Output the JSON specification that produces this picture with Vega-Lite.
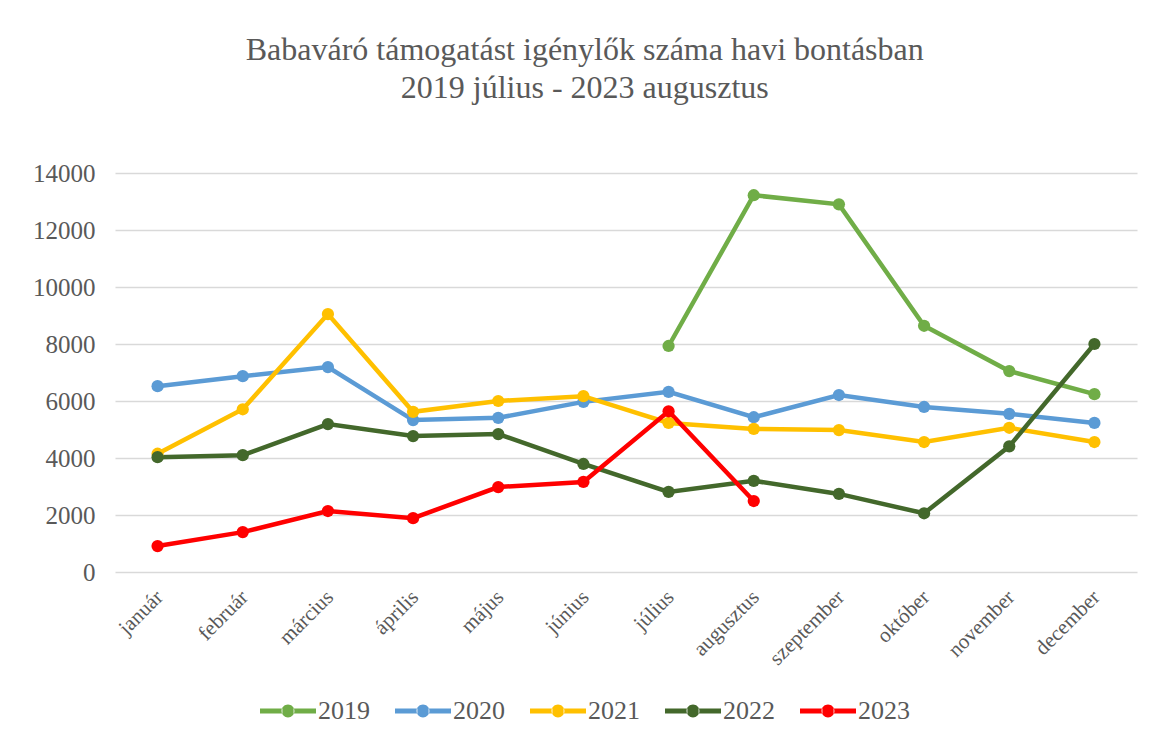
{
  "$schema": "https://vega.github.io/schema/vega-lite/v6.json",
  "width": 1022,
  "height": 399,
  "padding": {"left": 32, "top": 34, "right": 19, "bottom": 10},
  "background": "white",
  "title": {
    "text": ["Babaváró támogatást igénylők száma havi bontásban", "2019 július - 2023 augusztus"],
    "font": "Liberation Serif",
    "fontSize": 32,
    "fontWeight": "normal",
    "color": "#595959",
    "lineHeight": 38,
    "offset": 56,
    "anchor": "middle",
    "frame": "bounds"
  },
  "config": {"view": {"stroke": null}},
  "data": {
    "values": [
      {"honap": "július", "ev": "2019", "ertek": 7930},
      {"honap": "augusztus", "ev": "2019", "ertek": 13220},
      {"honap": "szeptember", "ev": "2019", "ertek": 12900},
      {"honap": "október", "ev": "2019", "ertek": 8640},
      {"honap": "november", "ev": "2019", "ertek": 7050},
      {"honap": "december", "ev": "2019", "ertek": 6240},

      {"honap": "január", "ev": "2020", "ertek": 6520},
      {"honap": "február", "ev": "2020", "ertek": 6870},
      {"honap": "március", "ev": "2020", "ertek": 7190},
      {"honap": "április", "ev": "2020", "ertek": 5330},
      {"honap": "május", "ev": "2020", "ertek": 5410},
      {"honap": "június", "ev": "2020", "ertek": 5970},
      {"honap": "július", "ev": "2020", "ertek": 6320},
      {"honap": "augusztus", "ev": "2020", "ertek": 5430},
      {"honap": "szeptember", "ev": "2020", "ertek": 6210},
      {"honap": "október", "ev": "2020", "ertek": 5790},
      {"honap": "november", "ev": "2020", "ertek": 5550},
      {"honap": "december", "ev": "2020", "ertek": 5230},

      {"honap": "január", "ev": "2021", "ertek": 4150},
      {"honap": "február", "ev": "2021", "ertek": 5710},
      {"honap": "március", "ev": "2021", "ertek": 9050},
      {"honap": "április", "ev": "2021", "ertek": 5620},
      {"honap": "május", "ev": "2021", "ertek": 6000},
      {"honap": "június", "ev": "2021", "ertek": 6170},
      {"honap": "július", "ev": "2021", "ertek": 5230},
      {"honap": "augusztus", "ev": "2021", "ertek": 5020},
      {"honap": "szeptember", "ev": "2021", "ertek": 4980},
      {"honap": "október", "ev": "2021", "ertek": 4560},
      {"honap": "november", "ev": "2021", "ertek": 5060},
      {"honap": "december", "ev": "2021", "ertek": 4560},

      {"honap": "január", "ev": "2022", "ertek": 4030},
      {"honap": "február", "ev": "2022", "ertek": 4100},
      {"honap": "március", "ev": "2022", "ertek": 5190},
      {"honap": "április", "ev": "2022", "ertek": 4770},
      {"honap": "május", "ev": "2022", "ertek": 4840},
      {"honap": "június", "ev": "2022", "ertek": 3790},
      {"honap": "július", "ev": "2022", "ertek": 2810},
      {"honap": "augusztus", "ev": "2022", "ertek": 3200},
      {"honap": "szeptember", "ev": "2022", "ertek": 2740},
      {"honap": "október", "ev": "2022", "ertek": 2060},
      {"honap": "november", "ev": "2022", "ertek": 4410},
      {"honap": "december", "ev": "2022", "ertek": 8000},

      {"honap": "január", "ev": "2023", "ertek": 910},
      {"honap": "február", "ev": "2023", "ertek": 1400},
      {"honap": "március", "ev": "2023", "ertek": 2140},
      {"honap": "április", "ev": "2023", "ertek": 1890},
      {"honap": "május", "ev": "2023", "ertek": 2980},
      {"honap": "június", "ev": "2023", "ertek": 3160},
      {"honap": "július", "ev": "2023", "ertek": 5640},
      {"honap": "augusztus", "ev": "2023", "ertek": 2490}
    ]
  },
  "encoding": {
    "x": {
      "field": "honap",
      "type": "ordinal",
      "sort": ["január", "február", "március", "április", "május", "június", "július", "augusztus", "szeptember", "október", "november", "december"],
      "scale": {"padding": 0.5},
      "axis": {
        "title": null,
        "labelAngle": -45,
        "labelFont": "Liberation Serif",
        "labelFontSize": 21,
        "labelColor": "#595959",
        "labelPadding": 14,
        "labelOffset": -6,
        "domain": false,
        "ticks": false,
        "grid": false
      }
    },
    "y": {
      "field": "ertek",
      "type": "quantitative",
      "scale": {"domain": [0, 14000], "nice": false},
      "axis": {
        "title": null,
        "values": [0, 2000, 4000, 6000, 8000, 10000, 12000, 14000],
        "format": "d",
        "labelFont": "Liberation Serif",
        "labelFontSize": 25,
        "labelColor": "#595959",
        "labelPadding": 20,
        "domain": false,
        "ticks": false,
        "grid": true,
        "gridColor": "#d9d9d9",
        "gridWidth": 1.5
      }
    },
    "color": {
      "field": "ev",
      "type": "nominal",
      "scale": {
        "domain": ["2019", "2020", "2021", "2022", "2023"],
        "range": ["#70AD47", "#5B9BD5", "#FFC000", "#43682B", "#FF0000"]
      },
      "legend": {
        "title": null,
        "orient": "none",
        "direction": "horizontal",
        "legendX": 145,
        "legendY": 510,
        "symbolType": "M-1,-0.09 L-0.2,-0.09 L-0.2,0.09 L-1,0.09 Z M0.2,-0.09 L1,-0.09 L1,0.09 L0.2,0.09 Z M-0.23,0 A0.23,0.23 0 1,0 0.23,0 A0.23,0.23 0 1,0 -0.23,0 Z",
        "symbolSize": 3136,
        "symbolStrokeWidth": 0,
        "labelFont": "Liberation Serif",
        "labelFontSize": 26,
        "labelColor": "#595959",
        "labelOffset": 2,
        "columnPadding": 25,
        "encode": {
          "symbols": {
            "update": {
              "fill": {"scale": "color", "field": "value"},
              "opacity": {"value": 1}
            }
          }
        }
      }
    }
  },
  "layer": [
    {"mark": {"type": "line", "strokeWidth": 4.5}},
    {"mark": {"type": "point", "filled": true, "size": 150, "opacity": 1}}
  ]
}
